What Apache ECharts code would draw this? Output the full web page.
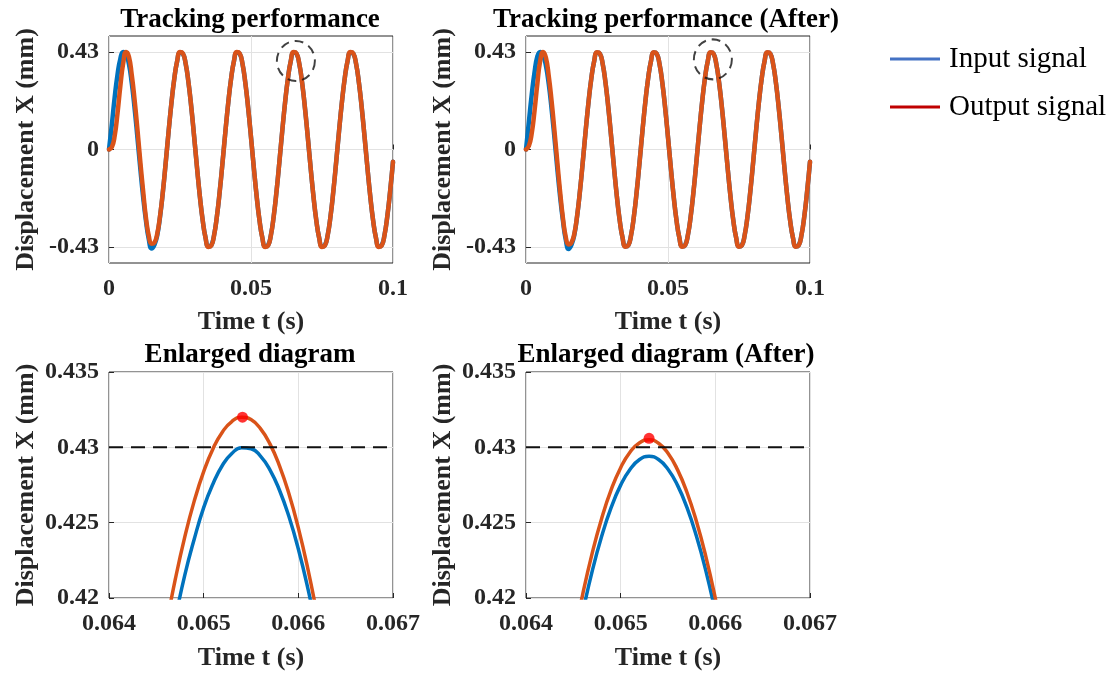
<!DOCTYPE html>
<html>
<head>
<meta charset="utf-8">
<script src="https://cdn.jsdelivr.net/npm/echarts@6/dist/echarts.min.js"></script>
<style>
  html, body { margin: 0; padding: 0; background: #fff; }
  #chart { width: 1116px; height: 673px; }
</style>
</head>
<body>
<div id="chart"></div>
<script>
// ---- Sampled signals (full run, 1 ms sample step) ----
const sampleStart = 0;
const sampleStep = 0.001;

const inputBefore = [
  0, 0.11, 0.23, 0.33, 0.40, 0.43, 0.42, 0.377, 0.294, 0.183,
  0.054, -0.081, -0.207, -0.313, -0.395, -0.436, -0.420, -0.377, -0.294, -0.183,
  -0.054, 0.081, 0.207, 0.313, 0.389, 0.427, 0.422, 0.377, 0.294, 0.183,
  0.054, -0.081, -0.207, -0.313, -0.389, -0.427, -0.422, -0.377, -0.294, -0.183,
  -0.054, 0.081, 0.207, 0.313, 0.389, 0.427, 0.422, 0.377, 0.294, 0.183,
  0.054, -0.081, -0.207, -0.313, -0.389, -0.427, -0.422, -0.377, -0.294, -0.183,
  -0.054, 0.081, 0.207, 0.313, 0.389, 0.427, 0.422, 0.377, 0.294, 0.183,
  0.054, -0.081, -0.207, -0.313, -0.389, -0.427, -0.422, -0.377, -0.294, -0.183,
  -0.054, 0.081, 0.207, 0.313, 0.389, 0.427, 0.422, 0.377, 0.294, 0.183,
  0.054, -0.081, -0.207, -0.313, -0.389, -0.427, -0.422, -0.377, -0.294, -0.183,
  -0.054
];
const outputBefore = [
  0, 0.01, 0.06, 0.16, 0.28, 0.38, 0.43, 0.41, 0.33, 0.22,
  0.09, -0.05, -0.18, -0.30, -0.38, -0.415, -0.41, -0.37, -0.29, -0.183,
  -0.054, 0.081, 0.207, 0.313, 0.390, 0.429, 0.424, 0.378, 0.294, 0.183,
  0.054, -0.081, -0.207, -0.313, -0.390, -0.429, -0.424, -0.378, -0.294, -0.183,
  -0.054, 0.081, 0.207, 0.313, 0.390, 0.429, 0.424, 0.378, 0.294, 0.183,
  0.054, -0.081, -0.207, -0.313, -0.390, -0.429, -0.424, -0.378, -0.294, -0.183,
  -0.054, 0.081, 0.207, 0.313, 0.390, 0.429, 0.424, 0.378, 0.294, 0.183,
  0.054, -0.081, -0.207, -0.313, -0.390, -0.429, -0.424, -0.378, -0.294, -0.183,
  -0.054, 0.081, 0.207, 0.313, 0.390, 0.429, 0.424, 0.378, 0.294, 0.183,
  0.054, -0.081, -0.207, -0.313, -0.390, -0.429, -0.424, -0.378, -0.294, -0.183,
  -0.054
];
const inputAfter = [
  0, 0.12, 0.24, 0.34, 0.41, 0.43, 0.415, 0.37, 0.29, 0.18,
  0.054, -0.081, -0.207, -0.313, -0.397, -0.438, -0.420, -0.377, -0.294, -0.183,
  -0.054, 0.081, 0.207, 0.313, 0.389, 0.427, 0.422, 0.377, 0.294, 0.183,
  0.054, -0.081, -0.207, -0.313, -0.389, -0.427, -0.422, -0.377, -0.294, -0.183,
  -0.054, 0.081, 0.207, 0.313, 0.389, 0.427, 0.422, 0.377, 0.294, 0.183,
  0.054, -0.081, -0.207, -0.313, -0.389, -0.427, -0.422, -0.377, -0.294, -0.183,
  -0.054, 0.081, 0.207, 0.313, 0.389, 0.427, 0.422, 0.377, 0.294, 0.183,
  0.054, -0.081, -0.207, -0.313, -0.389, -0.427, -0.422, -0.377, -0.294, -0.183,
  -0.054, 0.081, 0.207, 0.313, 0.389, 0.427, 0.422, 0.377, 0.294, 0.183,
  0.054, -0.081, -0.207, -0.313, -0.389, -0.427, -0.422, -0.377, -0.294, -0.183,
  -0.054
];
const outputAfter = [
  0, 0.015, 0.07, 0.17, 0.29, 0.39, 0.43, 0.405, 0.325, 0.215,
  0.085, -0.052, -0.185, -0.302, -0.385, -0.418, -0.41, -0.372, -0.292, -0.183,
  -0.054, 0.081, 0.207, 0.313, 0.389, 0.428, 0.423, 0.377, 0.294, 0.183,
  0.054, -0.081, -0.207, -0.313, -0.389, -0.428, -0.423, -0.377, -0.294, -0.183,
  -0.054, 0.081, 0.207, 0.313, 0.389, 0.428, 0.423, 0.377, 0.294, 0.183,
  0.054, -0.081, -0.207, -0.313, -0.389, -0.428, -0.423, -0.377, -0.294, -0.183,
  -0.054, 0.081, 0.207, 0.313, 0.389, 0.428, 0.423, 0.377, 0.294, 0.183,
  0.054, -0.081, -0.207, -0.313, -0.389, -0.428, -0.423, -0.377, -0.294, -0.183,
  -0.054, 0.081, 0.207, 0.313, 0.389, 0.428, 0.423, 0.377, 0.294, 0.183,
  0.054, -0.081, -0.207, -0.313, -0.389, -0.428, -0.423, -0.377, -0.294, -0.183,
  -0.054
];

// ---- Close-up around the fourth peak (0.1 ms sample step) ----
const zoomTimes = [
  0.0644, 0.0645, 0.0646, 0.0647, 0.0648, 0.0649, 0.0650, 0.0651, 0.0652, 0.0653,
  0.0654, 0.0655, 0.0656, 0.0657, 0.0658, 0.0659, 0.0660, 0.0661, 0.0662, 0.0663, 0.0664
];
const zoomInputBefore = [
  0.4075, 0.4116, 0.4153, 0.4186, 0.4215, 0.4239, 0.4260, 0.4276, 0.42883, 0.42961,
  0.42997, 0.42991, 0.42942, 0.42851, 0.42717, 0.42542, 0.42325, 0.42065, 0.41765, 0.41422, 0.41039
];
const zoomOutputBefore = [
  0.41035, 0.41439, 0.41802, 0.42123, 0.42404, 0.42643, 0.42839, 0.42993, 0.43104, 0.43173,
  0.43200, 0.43184, 0.43124, 0.43023, 0.42879, 0.42693, 0.42465, 0.42195, 0.41883, 0.41529, 0.41135
];
const zoomInputAfter = [
  0.41235, 0.41591, 0.41906, 0.42180, 0.42411, 0.42601, 0.42749, 0.42855, 0.42919, 0.42940,
  0.42919, 0.42855, 0.42749, 0.42601, 0.42411, 0.42180, 0.41906, 0.41591, 0.41235, 0.40838, 0.40401
];
const zoomOutputAfter = [
  0.41359, 0.41714, 0.42028, 0.42300, 0.42530, 0.42719, 0.42865, 0.42969, 0.43031, 0.43050,
  0.43027, 0.42961, 0.42852, 0.42702, 0.42509, 0.42275, 0.41998, 0.41681, 0.41322, 0.40922, 0.40482
];

// Peak of the output signal in each close-up, and the 0.43 mm reference level
const peakBefore = [0.06541, 0.4320];
const peakAfter = [0.06530, 0.4306];
const referenceLevel = 0.43;

// Region circled in the overview plots (the peak shown in the close-ups)
const circledBefore = [0.0658, 0.390];
const circledAfter = [0.0658, 0.397];

// Axis ticks and labels
const overviewYTicks = [-0.43, 0, 0.43];
const titles = ['Tracking performance', 'Tracking performance (After)', 'Enlarged diagram', 'Enlarged diagram (After)'];
const legendNames = ['Input signal', 'Output signal'];

// ---- Styling ----
const FONT = "'Liberation Serif', 'Times New Roman', serif";
const INK = '#262626';
const BLUE = '#0072BD';
const ORANGE = '#D95319';
const GRID_LINE = '#e2e2e2';

const grids = [
  { left: 109, top: 36, width: 284, height: 227 },
  { left: 526, top: 36, width: 284, height: 227 },
  { left: 109, top: 372, width: 284, height: 226 },
  { left: 526, top: 372, width: 284, height: 226 }
];

function pairs(times, values) {
  return values.map((v, i) => [times[i], v]);
}
function sampled(values) {
  return values.map((v, i) => [+(sampleStart + i * sampleStep).toFixed(4), v]);
}

const tickLabel = { fontFamily: FONT, fontWeight: 'bold', fontSize: 24, color: INK };
const axisName = { fontFamily: FONT, fontWeight: 'bold', fontSize: 26, color: INK };

function xAxis(gi, zoomed) {
  return {
    type: 'value', gridIndex: gi,
    min: zoomed ? 0.064 : 0, max: zoomed ? 0.067 : 0.1, interval: zoomed ? 0.001 : 0.05,
    name: 'Time t (s)', nameLocation: 'middle', nameGap: zoomed ? 47 : 46, nameTextStyle: axisName,
    axisLine: { show: false },
    axisTick: { inside: true, length: 5, lineStyle: { color: INK } },
    axisLabel: Object.assign({ margin: zoomed ? 14 : 14, formatter: v => zoomed ? v.toFixed(3) : String(+v.toFixed(3)) }, tickLabel),
    splitLine: { show: true, lineStyle: { color: GRID_LINE, width: 1 } }
  };
}
function yAxis(gi, zoomed) {
  const ax = {
    type: 'value', gridIndex: gi,
    name: 'Displacement X (mm)', nameLocation: 'middle', nameGap: 70, nameTextStyle: axisName,
    axisLine: { show: false },
    axisTick: { inside: true, length: 5, lineStyle: { color: INK } },
    axisLabel: Object.assign({ margin: 10 }, tickLabel),
    splitLine: { show: true, lineStyle: { color: GRID_LINE, width: 1 } }
  };
  if (zoomed) {
    ax.min = 0.42; ax.max = 0.435; ax.interval = 0.005;
    ax.axisLabel.formatter = v => String(+v.toFixed(3));
  } else {
    ax.min = -0.5; ax.max = 0.5;
    ax.axisLabel.customValues = overviewYTicks;
    ax.axisLabel.formatter = v => String(+v.toFixed(3));
    ax.axisTick.customValues = overviewYTicks;
  }
  return ax;
}

function signal(name, gi, data, color, width, z) {
  return {
    name, type: 'line', xAxisIndex: gi, yAxisIndex: gi, data,
    smooth: true, showSymbol: false, symbol: 'none', z,
    lineStyle: { color, width, cap: 'round', join: 'round' },
    itemStyle: { color }, emphasis: { disabled: true }
  };
}
function dashedCircle(gi, point) {
  return {
    type: 'scatter', xAxisIndex: gi, yAxisIndex: gi, data: [point], z: 5,
    symbol: 'circle', symbolSize: [38, 40], silent: true,
    itemStyle: { color: 'rgba(0,0,0,0)', borderColor: '#111', borderWidth: 2, borderType: [9, 6] }
  };
}
function peakDot(gi, point) {
  return {
    type: 'scatter', xAxisIndex: gi, yAxisIndex: gi, data: [point], z: 6,
    symbol: 'circle', symbolSize: 11, silent: true,
    itemStyle: { color: '#ff0000' }
  };
}
function referenceLine(gi) {
  return {
    type: 'line', xAxisIndex: gi, yAxisIndex: gi, z: 5, symbol: 'none', silent: true,
    data: [[0.064, referenceLevel], [0.067, referenceLevel]],
    lineStyle: { color: '#111', width: 2, type: [14, 8] }
  };
}

const titleCenters = [[245, 2], [661, 2], [245, 337], [661, 337]];

const option = {
  backgroundColor: '#fff',
  animation: false,
  title: titles.map((t, i) => ({
    text: t, left: titleCenters[i][0], top: titleCenters[i][1], textAlign: 'center',
    textStyle: { fontFamily: FONT, fontWeight: 'bold', fontSize: 27, color: '#000' }
  })),
  legend: {
    data: [
      { name: legendNames[0], icon: 'rect', itemStyle: { color: '#4472C4' } },
      { name: legendNames[1], icon: 'rect', itemStyle: { color: '#C00000' } }
    ],
    orient: 'vertical', left: 885, top: 39, itemWidth: 50, itemHeight: 3, itemGap: 18,
    selectedMode: false,
    textStyle: { fontFamily: FONT, fontSize: 29, color: '#000', lineHeight: 30, padding: [0, 0, 0, 4] }
  },
  grid: grids.map(g => Object.assign({ show: true, borderColor: INK, borderWidth: 1, backgroundColor: 'rgba(0,0,0,0)' }, g)),
  xAxis: [xAxis(0, false), xAxis(1, false), xAxis(2, true), xAxis(3, true)],
  yAxis: [yAxis(0, false), yAxis(1, false), yAxis(2, true), yAxis(3, true)],
  series: [
    signal(legendNames[0], 0, sampled(inputBefore), BLUE, 4.5, 2),
    signal(legendNames[1], 0, sampled(outputBefore), ORANGE, 4.5, 3),
    dashedCircle(0, circledBefore),
    signal(legendNames[0], 1, sampled(inputAfter), BLUE, 4.5, 2),
    signal(legendNames[1], 1, sampled(outputAfter), ORANGE, 4.5, 3),
    dashedCircle(1, circledAfter),
    signal(legendNames[0], 2, pairs(zoomTimes, zoomInputBefore), BLUE, 3.5, 2),
    signal(legendNames[1], 2, pairs(zoomTimes, zoomOutputBefore), ORANGE, 3.5, 3),
    referenceLine(2),
    peakDot(2, peakBefore),
    signal(legendNames[0], 3, pairs(zoomTimes, zoomInputAfter), BLUE, 3.5, 2),
    signal(legendNames[1], 3, pairs(zoomTimes, zoomOutputAfter), ORANGE, 3.5, 3),
    referenceLine(3),
    peakDot(3, peakAfter)
  ]
};

const chart = echarts.init(document.getElementById('chart'), null, { renderer: 'canvas' });
chart.setOption(option);
</script>
</body>
</html>
